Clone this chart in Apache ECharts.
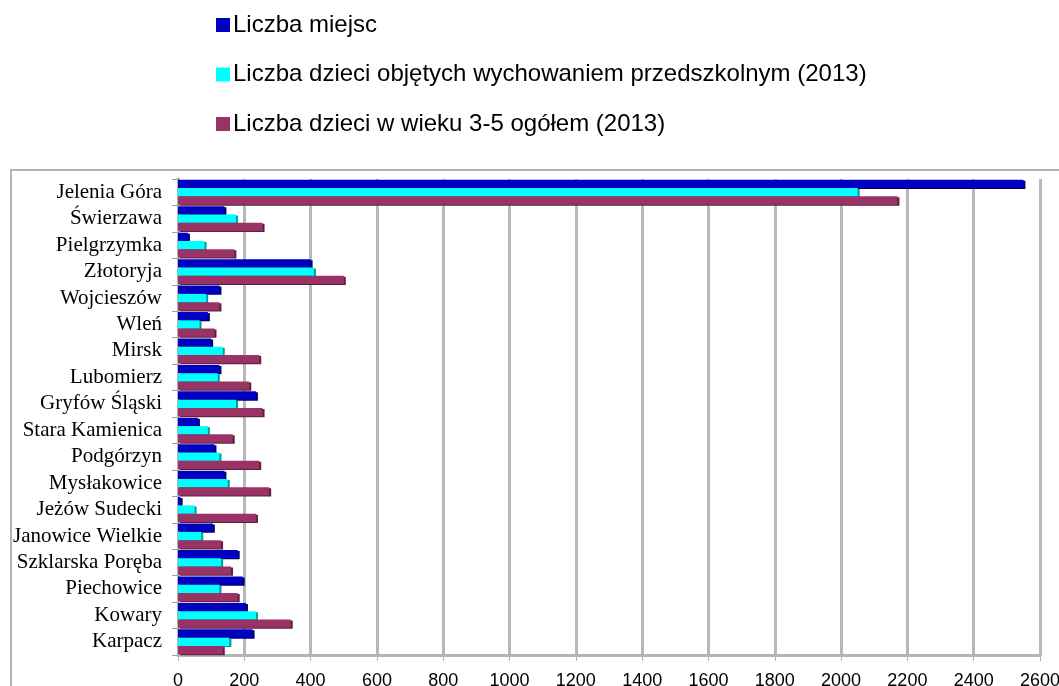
<!DOCTYPE html>
<html>
<head>
<meta charset="utf-8">
<script src="https://cdn.jsdelivr.net/npm/echarts@6/dist/echarts.min.js"></script>
<style>
  html, body { margin: 0; padding: 0; background: #fff; }
  #chart { width: 1059px; height: 686px; }
</style>
</head>
<body>
<div id="chart"></div>
<script>
// gminy, od góry do dołu
let gminy = ['Jelenia Góra', 'Świerzawa', 'Pielgrzymka', 'Złotoryja', 'Wojcieszów', 'Wleń', 'Mirsk',
  'Lubomierz', 'Gryfów Śląski', 'Stara Kamienica', 'Podgórzyn', 'Mysłakowice', 'Jeżów Sudecki',
  'Janowice Wielkie', 'Szklarska Poręba', 'Piechowice', 'Kowary', 'Karpacz']

let liczbaMiejsc = [2550, 140, 30, 400, 125, 90, 100, 125, 235, 60, 110, 140, 8, 105, 180, 195, 205, 225]
let objeteWychowaniem = [2050, 175, 80, 410, 85, 65, 135, 120, 175, 90, 125, 150, 50, 70, 130, 125, 235, 155]
let dzieci35 = [2170, 255, 170, 500, 125, 110, 245, 215, 255, 165, 245, 275, 235, 130, 160, 180, 340, 135]

let nazwySerii = ['Liczba miejsc', 'Liczba dzieci objętych wychowaniem przedszkolnym (2013)',
  'Liczba dzieci w wieku 3-5 ogółem (2013)']
let kolory = ['#0000c0', '#00ffff', '#993366']
let cienie = ['#00006e', '#009c9c', '#5e1f3f']

const chart = echarts.init(document.getElementById('chart'))

function seria(i, dane) {
  return {
    name: nazwySerii[i],
    type: 'bar',
    data: dane,
    barGap: '0%',
    barCategoryGap: '6%',
    itemStyle: {
      color: kolory[i],
      shadowColor: cienie[i],
      shadowOffsetX: 2,
      shadowOffsetY: 1
    }
  }
}

var option = {
  backgroundColor: '#fff',
  animation: false,
  legend: {
    orient: 'vertical',
    left: 211,
    top: 8,
    itemWidth: 14,
    itemHeight: 14,
    itemGap: 25.5,
    icon: 'rect',
    textStyle: { fontFamily: 'Liberation Sans', fontSize: 24, color: '#000', padding: [0, 0, 0, -2] },
    data: nazwySerii
  },
  graphic: [{
    type: 'rect',
    shape: { x: 11, y: 170, width: 1060, height: 530 },
    style: { fill: 'none', stroke: '#b4b4b4', lineWidth: 2 },
    z: -1
  }],
  grid: { left: 178, right: 19, top: 179, bottom: 31, containLabel: false, outerBoundsMode: 'none' },
  xAxis: {
    type: 'value',
    min: 0,
    max: 2600,
    interval: 200,
    axisLine: { show: true, lineStyle: { color: '#b4b4b4', width: 3 } },
    axisTick: { show: true, length: 6, lineStyle: { color: '#b4b4b4' } },
    splitLine: { show: true, lineStyle: { color: '#b8b8b8', width: 3 } },
    axisLabel: {
      color: '#000', fontSize: 18, fontFamily: 'Liberation Sans', margin: 17,
      formatter: function (v) { return String(v) }
    }
  },
  yAxis: {
    type: 'category',
    inverse: true,
    data: gminy,
    axisLine: { show: true, lineStyle: { color: '#b4b4b4', width: 3 } },
    axisTick: { show: true, length: 6, lineStyle: { color: '#a0a0a0' } },
    axisLabel: { color: '#000', fontSize: 21, fontFamily: 'Liberation Serif', margin: 16, interval: 0 }
  },
  series: [
    seria(0, liczbaMiejsc),
    seria(1, objeteWychowaniem),
    seria(2, dzieci35)
  ]
}

chart.setOption(option)
</script>
</body>
</html>
